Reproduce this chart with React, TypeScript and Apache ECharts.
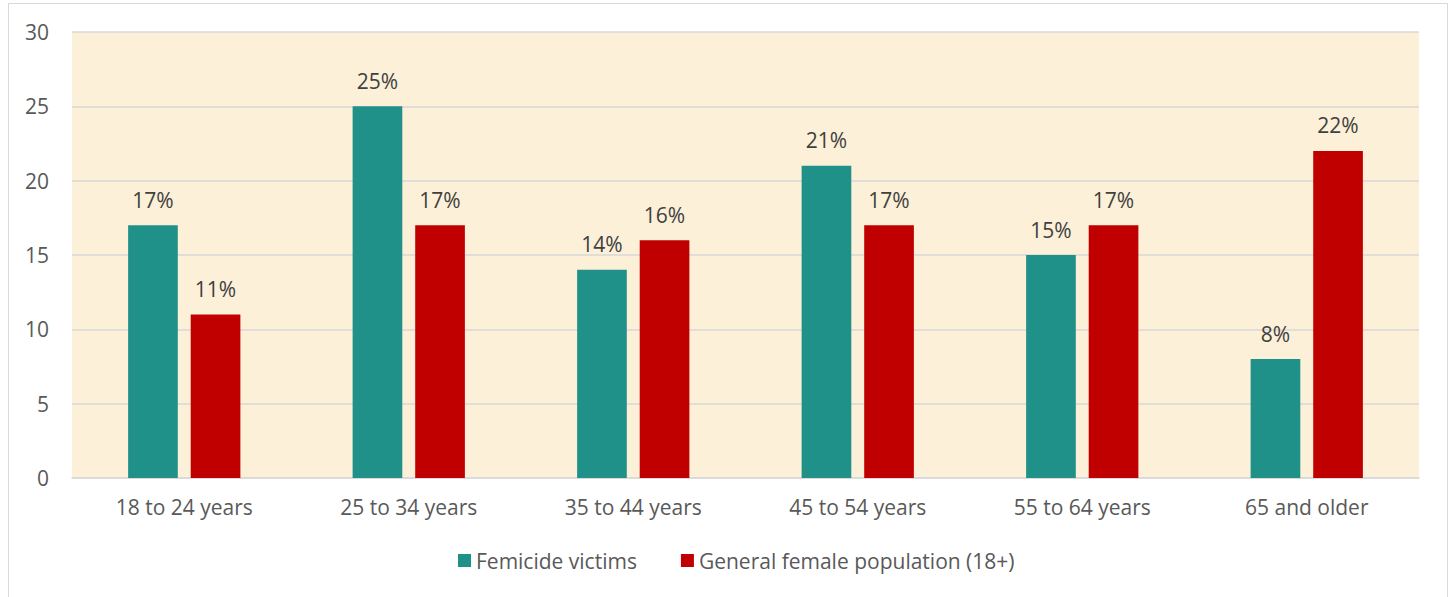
import React, { useEffect, useRef } from "react";
import * as echarts from "echarts";

const categories = ["18 to 24 years", "25 to 34 years", "35 to 44 years", "45 to 54 years", "55 to 64 years", "65 and older"];
const femicideVictims = [17, 25, 14, 21, 15, 8];
const generalFemalePopulation = [11, 17, 16, 17, 17, 22];
const seriesNames = ["Femicide victims", "General female population (18+)"];

export default function App() {
  const ref = useRef<HTMLDivElement>(null);
  useEffect(() => {
    const chart = echarts.init(ref.current!, null, { renderer: "svg" });
    const font = "'Open Sans', sans-serif";
    const label = {
      show: true,
      position: "top",
      distance: 15,
      formatter: "{c}%",
      color: "#404040",
      fontSize: 21,
      fontFamily: font,
    };
    chart.setOption({
      animation: false,
      backgroundColor: "#ffffff",
      graphic: [
        {
          type: "rect",
          shape: { x: 8.5, y: 3.5, width: 1439, height: 600 },
          style: { fill: "none", stroke: "#d9d9d9", lineWidth: 1 },
          z: 0,
        },
      ],
      grid: { left: 72, right: 34, top: 32, bottom: 119, backgroundColor: "#fcf0d8", show: true, borderWidth: 0 },
      legend: {
        top: 545,
        left: 453,
        itemWidth: 13,
        itemHeight: 13,
        itemGap: 44,
        icon: "rect",
        textStyle: { color: "#595959", fontSize: 21, fontFamily: font },
        data: seriesNames,
      },
      xAxis: {
        type: "category",
        data: categories,
        axisLine: { show: true, lineStyle: { color: "#d9d9d9", width: 1.5 } },
        axisTick: { show: false },
        axisLabel: { color: "#595959", fontSize: 21, fontFamily: font, margin: 18 },
      },
      yAxis: {
        type: "value",
        min: 0,
        max: 30,
        interval: 5,
        axisLine: { show: false },
        axisTick: { show: false },
        splitLine: { lineStyle: { color: "#d9d9d9", width: 1.5 } },
        axisLabel: { color: "#595959", fontSize: 21, fontFamily: font, margin: 23 },
      },
      series: [
        {
          name: seriesNames[0],
          type: "bar",
          data: femicideVictims,
          itemStyle: { color: "#1f9189" },
          barGap: "26%",
          barCategoryGap: "50%",
          label,
        },
        {
          name: seriesNames[1],
          type: "bar",
          data: generalFemalePopulation,
          itemStyle: { color: "#c00000" },
          barGap: "26%",
          barCategoryGap: "50%",
          label,
        },
      ],
    });
    return () => chart.dispose();
  }, []);
  return <div ref={ref} style={{ position: "fixed", left: 0, top: 0, width: 1453, height: 597 }} />;
}
